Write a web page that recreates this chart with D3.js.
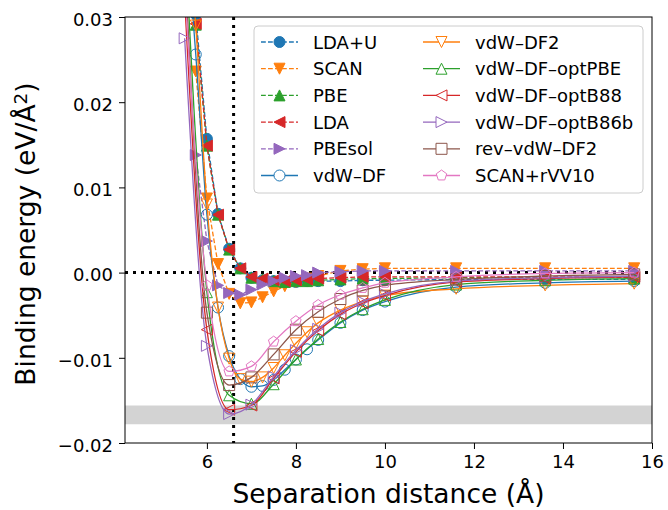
<!DOCTYPE html>
<html>
<head>
<meta charset="utf-8">
<script src="https://cdn.jsdelivr.net/npm/d3@7"></script>
<style>
  body { margin: 0; background: #fff; }
  text { font-family: "DejaVu Sans", sans-serif; fill: #000; }
</style>
</head>
<body>
<div id="chart"></div>
<script>
/* Binding energy vs separation distance */

const height = 510,
    width = 668,
    margin = ({ top: 17, right: 16, bottom: 67, left: 125 });

// separation grids (Å)
const xDash = [5.75, 6.0, 6.25, 6.5, 6.75, 7.0, 7.25, 7.5, 7.75, 8.0, 8.25, 8.5, 9.0, 9.5, 10.0, 11.6, 13.6, 15.6];
const xFine = [5.6, 5.75, 6.0, 6.25, 6.5, 6.75, 7.0, 7.25, 7.5, 7.75, 8.0, 8.25, 8.5, 9.0, 9.5, 10.0, 11.6, 13.6, 15.6];
const xCoarse = [5.5, 6.0, 6.5, 7.0, 7.5, 8.0, 8.5, 9.0, 9.5, 10.0, 11.6, 13.6, 15.6];

// binding energies (eV/Å^2)
const ldaU   = [0.0303, 0.0157, 0.0069, 0.0028, 0.0005, -0.0006, -0.0009, -0.0010, -0.0011, -0.0011, -0.0010, -0.0010, -0.0010, -0.0009, -0.0009, -0.0008, -0.0008, -0.0008];
const scan   = [0.0236, 0.0087, 0.0010, -0.0025, -0.0036, -0.0035, -0.0029, -0.0022, -0.0016, -0.0011, -0.0007, -0.0004, 0.0002, 0.0004, 0.0005, 0.0005, 0.0005, 0.0005];
const pbe    = [0.0291, 0.0149, 0.0068, 0.0027, 0.0005, -0.0006, -0.0008, -0.0010, -0.0011, -0.0010, -0.0010, -0.0009, -0.0008, -0.0007, -0.0007, -0.0006, -0.0006, -0.0006];
const lda    = [0.0292, 0.0149, 0.0068, 0.0027, 0.0005, -0.0005, -0.0007, -0.0009, -0.0010, -0.0009, -0.0008, -0.0007, -0.0006, -0.0005, -0.0005, -0.0005, -0.0005, -0.0005];
const pbesol = [0.0138, 0.0037, -0.0015, -0.0024, -0.0026, -0.0020, -0.0014, -0.0010, -0.0006, -0.0004, -0.0003, 0.0000, 0.0001, 0.0002, 0.0002, 0.0002, 0.0002, 0.0002];

const vdwDF  = [0.036, 0.0256, 0.0068, -0.0041, -0.0098, -0.0125, -0.0134, -0.0133, -0.0126, -0.0114, -0.0102, -0.0090, -0.0079, -0.0059, -0.0044, -0.0034, -0.0017, -0.0012, -0.0010];
const vdwDF2 = [0.040, 0.0290, 0.0080, -0.0041, -0.0101, -0.0125, -0.0128, -0.0123, -0.0112, -0.0097, -0.0083, -0.0070, -0.0059, -0.0044, -0.0034, -0.0027, -0.0019, -0.0015, -0.0013];
const optPBE  = [0.040, -0.0023, -0.0144, -0.0154, -0.0131, -0.0102, -0.0078, -0.0058, -0.0043, -0.0032, -0.0014, -0.0009, -0.0007];
const optB88  = [0.032, -0.0067, -0.0161, -0.0156, -0.0124, -0.0093, -0.0068, -0.0049, -0.0036, -0.0027, -0.0011, -0.0007, -0.0005];
const optB86b = [0.0275, -0.0086, -0.0166, -0.0155, -0.0122, -0.0091, -0.0066, -0.0047, -0.0034, -0.0025, -0.0010, -0.0006, -0.0004];
const revDF2  = [0.037, -0.0047, -0.0132, -0.0123, -0.0096, -0.0067, -0.0046, -0.0031, -0.0021, -0.0015, -0.0008, -0.0004, -0.0002];
const scanVV  = [0.0335, -0.0015, -0.0116, -0.0110, -0.0081, -0.0057, -0.0038, -0.0026, -0.0018, -0.0012, -0.0005, -0.0001, 0.0000];

const xTicks = [6, 8, 10, 12, 14, 16];
const yTicks = [-0.02, -0.01, 0.00, 0.01, 0.02, 0.03];
const refBand = [-0.0178, -0.0156];   // grey reference range
const refX = 6.6;

const series = [
  { name: "LDA+U", xs: xDash, ys: ldaU, color: "#1f77b4", marker: "o", dashed: true },
  { name: "SCAN", xs: xDash, ys: scan, color: "#ff7f0e", marker: "v", dashed: true },
  { name: "PBE", xs: xDash, ys: pbe, color: "#2ca02c", marker: "^", dashed: true },
  { name: "LDA", xs: xDash, ys: lda, color: "#d62728", marker: "<", dashed: true },
  { name: "PBEsol", xs: xDash, ys: pbesol, color: "#9467bd", marker: ">", dashed: true },
  { name: "vdW\u2013DF", xs: xFine, ys: vdwDF, color: "#1f77b4", marker: "o", dashed: false },
  { name: "vdW\u2013DF2", xs: xFine, ys: vdwDF2, color: "#ff7f0e", marker: "v", dashed: false },
  { name: "vdW\u2013DF\u2013optPBE", xs: xCoarse, ys: optPBE, color: "#2ca02c", marker: "^", dashed: false },
  { name: "vdW\u2013DF\u2013optB88", xs: xCoarse, ys: optB88, color: "#d62728", marker: "<", dashed: false },
  { name: "vdW\u2013DF\u2013optB86b", xs: xCoarse, ys: optB86b, color: "#9467bd", marker: ">", dashed: false },
  { name: "rev\u2013vdW\u2013DF2", xs: xCoarse, ys: revDF2, color: "#8c564b", marker: "s", dashed: false },
  { name: "SCAN+rVV10", xs: xCoarse, ys: scanVV, color: "#e377c2", marker: "p", dashed: false }
];

const svg = d3.select("#chart")
    .append("svg")
    .attr("width", width)
    .attr("height", height)
    .attr("viewBox", [0, 0, width, height]);

let x = d3.scaleLinear()
    .domain([4.16, 16])
    .range([margin.left, width - margin.right]);

let y = d3.scaleLinear()
    .domain([-0.02, 0.03])
    .range([height - margin.bottom, margin.top]);

svg.append("clipPath").attr("id", "plot-clip")
  .append("rect")
    .attr("x", margin.left)
    .attr("y", margin.top)
    .attr("width", width - margin.left - margin.right)
    .attr("height", height - margin.top - margin.bottom);

const plot = svg.append("g").attr("clip-path", "url(#plot-clip)");

// grey band
plot.append("rect")
    .attr("x", margin.left)
    .attr("width", width - margin.left - margin.right)
    .attr("y", y(refBand[1]))
    .attr("height", y(refBand[0]) - y(refBand[1]))
    .attr("fill", "#d3d3d3");

// dotted reference lines
plot.append("line")
    .attr("x1", x(refX)).attr("x2", x(refX))
    .attr("y1", margin.top).attr("y2", height - margin.bottom)
    .attr("stroke", "#000").attr("stroke-width", 3).attr("stroke-dasharray", "3,5");
plot.append("line")
    .attr("x1", margin.left).attr("x2", width - margin.right)
    .attr("y1", y(0)).attr("y2", y(0))
    .attr("stroke", "#000").attr("stroke-width", 3).attr("stroke-dasharray", "3,5");

// marker shapes, matplotlib style
function markerPath(m, s) {
  if (m === "o") return `M${s},0A${s},${s} 0 1,1 ${-s},0A${s},${s} 0 1,1 ${s},0Z`;
  if (m === "^") return `M0,${-s}L${-s},${s}L${s},${s}Z`;
  if (m === "v") return `M0,${s}L${-s},${-s}L${s},${-s}Z`;
  if (m === "<") return `M${-s},0L${s},${-s}L${s},${s}Z`;
  if (m === ">") return `M${s},0L${-s},${-s}L${-s},${s}Z`;
  if (m === "s") return `M${-s},${-s}H${s}V${s}H${-s}Z`;
  if (m === "p") {
    let pts = d3.range(5).map(i => {
      let a = -Math.PI / 2 + i * 2 * Math.PI / 5;
      return [s * Math.cos(a), s * Math.sin(a)];
    });
    return "M" + pts.join("L") + "Z";
  }
}

const msize = 5.5;

for (let s of series) {
  let pts = s.xs.map((v, i) => [v, s.ys[i]]);

  let line = d3.line()
      .x(d => x(d[0]))
      .y(d => y(d[1]))
      .curve(s.dashed ? d3.curveLinear : d3.curveMonotoneX);

  plot.append("path")
      .datum(pts)
      .attr("d", line)
      .attr("fill", "none")
      .attr("stroke", s.color)
      .attr("stroke-width", 1.3)
      .attr("stroke-dasharray", s.dashed ? "4.8,2.2" : null);

  plot.append("g")
    .selectAll("path")
    .data(pts)
    .join("path")
      .attr("transform", d => `translate(${x(d[0])},${y(d[1])})`)
      .attr("d", markerPath(s.marker, msize))
      .attr("fill", s.dashed ? s.color : "none")
      .attr("stroke", s.color)
      .attr("stroke-width", 1);
}

// axes
const xAxis = svg.append("g")
    .attr("transform", `translate(0,${height - margin.bottom})`)
    .call(d3.axisBottom(x).tickValues(xTicks).tickSize(6).tickPadding(6).tickSizeOuter(0));

const yAxis = svg.append("g")
    .attr("transform", `translate(${margin.left},0)`)
    .call(d3.axisLeft(y).tickValues(yTicks).tickFormat(d3.format(".2f")).tickSize(6).tickPadding(6).tickSizeOuter(0));

for (let ax of [xAxis, yAxis]) {
  ax.select(".domain").remove();
  ax.selectAll("text").attr("font-size", 18).attr("font-family", "DejaVu Sans");
  ax.selectAll("line").attr("stroke", "#000").attr("stroke-width", 1);
}
yAxis.selectAll("text").attr("dy", "0.46em");

// frame
svg.append("rect")
    .attr("x", margin.left)
    .attr("y", margin.top)
    .attr("width", width - margin.left - margin.right)
    .attr("height", height - margin.top - margin.bottom)
    .attr("fill", "none")
    .attr("stroke", "#000")
    .attr("stroke-width", 1);

// axis labels
svg.append("text")
    .attr("text-anchor", "middle")
    .attr("x", (margin.left + width - margin.right) / 2)
    .attr("y", 503)
    .attr("font-size", 26.5)
    .text("Separation distance (Å)");

const yl = svg.append("text")
    .attr("text-anchor", "middle")
    .attr("transform", `translate(35,${(margin.top + height - margin.bottom) / 2 + 4}) rotate(-90)`)
    .attr("font-size", 26.5);
yl.append("tspan").text("Binding energy (eV/Å");
yl.append("tspan").attr("dy", "-0.45em").attr("font-size", 18.5).text("2");
yl.append("tspan").attr("dy", "0.32em").text(")");

// legend
const legend = svg.append("g");
legend.append("rect")
    .attr("x", 254).attr("y", 26)
    .attr("width", 389).attr("height", 167)
    .attr("rx", 4)
    .attr("fill", "#fff").attr("fill-opacity", 0.8)
    .attr("stroke", "#cccccc").attr("stroke-width", 1);

series.forEach((s, i) => {
  let col = Math.floor(i / 6), row = i % 6;
  let lx = col === 0 ? 261 : 423;
  let ly = 42 + row * 26.7;
  let g = legend.append("g").attr("transform", `translate(${lx},${ly})`);
  g.append("line")
      .attr("x1", 0).attr("x2", 37)
      .attr("stroke", s.color).attr("stroke-width", 1.3)
      .attr("stroke-dasharray", s.dashed ? "4.8,2.2" : null);
  g.append("path")
      .attr("transform", "translate(18.5,0)")
      .attr("d", markerPath(s.marker, msize))
      .attr("fill", s.dashed ? s.color : "#fff")
      .attr("stroke", s.color);
  g.append("text")
      .attr("x", 52)
      .attr("y", 6.5)
      .attr("font-size", 18)
      .text(s.name);
});
</script>
</body>
</html>
